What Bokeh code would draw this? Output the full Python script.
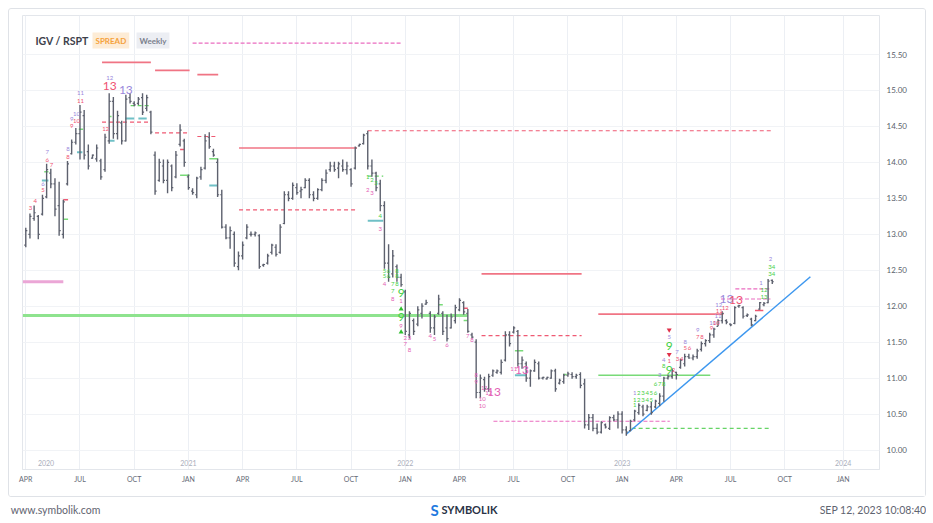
import pandas as pd
from bokeh.plotting import figure
from bokeh.layouts import column
from bokeh.models import (Range1d, FixedTicker, Label, ColumnDataSource, NumeralTickFormatter)
from bokeh.embed import file_html
from bokeh.resources import INLINE
from bokeh.core.properties import value

FONT = "Lato"

# ---------------- data: weekly IGV / RSPT spread bars ----------------
first_week = "2020-04-06"
opens = [12.85, 13.00, 13.22, 13.25, 13.28, 13.52, 13.85, 13.70, 13.40, 13.00,
         13.70, 14.12, 14.28, 14.40, 14.65, 14.15, 14.06, 14.05, 14.02, 13.90,
         14.30, 14.85, 14.40, 14.55, 14.30, 14.90, 14.82, 14.82, 14.90, 14.75,
         14.70, 14.10, 13.75, 13.95, 13.75, 13.95, 13.80, 14.25, 14.30, 13.80,
         13.60, 13.55, 13.80, 13.92, 14.35, 14.15, 14.00, 13.55, 13.10, 12.95,
         13.00, 12.55, 12.70, 12.95, 13.00, 13.00, 12.98, 12.57, 12.60, 12.75,
         12.82, 12.75, 13.15, 13.55, 13.50, 13.65, 13.60, 13.65, 13.75, 13.55,
         13.50, 13.62, 13.75, 13.90, 13.95, 13.92, 13.95, 13.90, 13.90, 13.92,
         14.23, 14.26, 14.40, 13.95, 13.85, 13.70, 13.40, 12.60, 12.45, 12.55,
         12.40, 12.20, 11.60, 11.80, 11.75, 11.90, 12.03, 11.90, 11.70, 11.90,
         11.90, 11.70, 11.70, 11.80, 11.95, 12.05, 11.90, 11.60, 11.50, 10.80,
         10.98, 10.85, 11.04, 11.08, 11.08, 11.25, 11.60, 11.64, 11.65, 11.20,
         11.20, 11.00, 11.10, 11.20, 11.00, 10.99, 11.00, 11.10, 10.93, 10.95,
         11.04, 11.05, 11.02, 11.05, 10.92, 10.35, 10.45, 10.30, 10.25, 10.35,
         10.30, 10.45, 10.42, 10.50, 10.28, 10.27, 10.42, 10.52, 10.60, 10.55,
         10.60, 10.60, 10.65, 10.75, 11.00, 11.02, 11.08, 11.15, 11.20, 11.30,
         11.28, 11.30, 11.40, 11.48, 11.52, 11.60, 11.72, 11.80, 11.80, 11.75,
         11.76, 12.00, 11.98, 11.87, 11.82, 11.80, 11.96, 12.02, 12.05, 12.36]
highs = [13.09, 13.29, 13.40, 13.27, 13.55, 13.98, 13.91, 13.78, 13.73, 13.48,
         14.02, 14.32, 14.48, 14.80, 14.73, 14.25, 14.11, 14.25, 14.05, 14.40,
         14.96, 14.91, 14.72, 14.58, 14.94, 14.96, 14.85, 14.91, 14.96, 14.94,
         14.72, 14.15, 14.05, 14.04, 14.04, 13.97, 14.16, 14.53, 14.33, 13.83,
         13.64, 13.80, 13.94, 14.39, 14.42, 14.19, 14.05, 13.62, 13.14, 13.11,
         13.04, 12.76, 12.90, 13.14, 13.04, 13.04, 13.00, 12.59, 12.73, 12.87,
         12.86, 13.14, 13.60, 13.60, 13.72, 13.71, 13.66, 13.78, 13.78, 13.60,
         13.64, 13.78, 13.90, 14.01, 14.01, 14.01, 14.04, 14.01, 13.92, 14.22,
         14.26, 14.40, 14.44, 14.04, 13.87, 13.76, 13.46, 12.86, 12.78, 12.58,
         12.45, 12.23, 11.93, 11.83, 12.00, 12.04, 12.09, 11.93, 11.88, 12.16,
         11.93, 11.88, 11.90, 12.02, 12.11, 12.07, 11.96, 11.63, 11.54, 11.05,
         11.02, 11.06, 11.12, 11.12, 11.26, 11.65, 11.65, 11.72, 11.67, 11.30,
         11.23, 11.12, 11.26, 11.23, 11.02, 11.02, 11.12, 11.13, 10.99, 11.06,
         11.09, 11.08, 11.06, 11.08, 10.99, 10.50, 10.50, 10.37, 10.40, 10.37,
         10.47, 10.49, 10.54, 10.54, 10.33, 10.42, 10.56, 10.65, 10.63, 10.63,
         10.67, 10.70, 10.79, 11.02, 11.05, 11.13, 11.09, 11.27, 11.34, 11.34,
         11.33, 11.41, 11.51, 11.54, 11.63, 11.70, 11.82, 11.93, 11.82, 11.76,
         12.00, 12.02, 12.00, 11.90, 11.84, 11.88, 12.06, 12.06, 12.38, 12.37]
lows = [12.82, 12.94, 13.19, 12.93, 13.26, 13.50, 13.64, 13.25, 12.98, 12.94,
        13.68, 14.11, 14.25, 14.04, 14.04, 13.90, 14.05, 14.01, 13.76, 13.87,
        14.26, 14.33, 14.32, 14.25, 14.29, 14.82, 14.78, 14.80, 14.66, 14.71,
        14.39, 13.55, 13.73, 13.71, 13.57, 13.60, 13.78, 14.22, 13.94, 13.62,
        13.55, 13.50, 13.76, 13.90, 14.19, 14.08, 13.52, 13.08, 12.93, 12.80,
        12.55, 12.50, 12.65, 12.93, 12.97, 12.97, 12.52, 12.55, 12.58, 12.72,
        12.69, 12.73, 13.14, 13.46, 13.48, 13.55, 13.50, 13.64, 13.50, 13.46,
        13.48, 13.60, 13.71, 13.87, 13.87, 13.78, 13.87, 13.83, 13.66, 13.90,
        14.22, 14.25, 13.90, 13.80, 13.60, 13.32, 12.52, 12.34, 12.40, 12.34,
        12.27, 11.60, 11.55, 11.60, 11.72, 11.83, 12.02, 11.63, 11.60, 11.88,
        11.60, 11.51, 11.69, 11.76, 11.93, 11.88, 11.63, 11.55, 10.72, 10.72,
        10.81, 10.81, 11.02, 11.06, 11.05, 11.23, 11.44, 11.62, 11.16, 11.13,
        10.95, 10.88, 11.09, 10.98, 10.98, 10.98, 10.99, 10.81, 10.91, 10.92,
        11.02, 10.99, 10.99, 10.86, 10.30, 10.28, 10.26, 10.22, 10.23, 10.30,
        10.28, 10.40, 10.30, 10.23, 10.20, 10.26, 10.40, 10.49, 10.47, 10.54,
        10.49, 10.58, 10.61, 10.67, 10.98, 10.99, 10.98, 11.13, 11.16, 11.27,
        11.25, 11.27, 11.37, 11.44, 11.49, 11.56, 11.72, 11.76, 11.75, 11.72,
        11.75, 11.98, 11.83, 11.85, 11.72, 11.79, 11.95, 12.00, 12.04, 12.31]
closes = [13.05, 13.25, 13.30, 13.00, 13.50, 13.90, 13.70, 13.35, 13.05, 13.45,
          13.98, 14.28, 14.40, 14.70, 14.10, 13.95, 14.10, 14.20, 13.80, 14.35,
          14.85, 14.40, 14.65, 14.30, 14.88, 14.85, 14.80, 14.88, 14.70, 14.90,
          14.42, 13.60, 14.00, 13.75, 14.00, 13.65, 14.10, 14.45, 14.00, 13.65,
          13.58, 13.78, 13.90, 14.30, 14.22, 14.10, 13.55, 13.10, 12.95, 13.05,
          12.60, 12.70, 12.85, 13.10, 13.00, 13.02, 12.55, 12.58, 12.70, 12.85,
          12.72, 13.10, 13.55, 13.50, 13.68, 13.58, 13.62, 13.75, 13.55, 13.50,
          13.62, 13.75, 13.85, 13.95, 13.90, 13.98, 13.90, 13.95, 13.70, 14.20,
          14.25, 14.38, 13.95, 13.85, 13.65, 13.40, 12.60, 12.40, 12.70, 12.40,
          12.30, 11.65, 11.90, 11.65, 11.95, 12.00, 12.05, 11.70, 11.85, 12.10,
          11.65, 11.55, 11.85, 11.98, 12.08, 11.92, 11.65, 11.57, 10.80, 11.00,
          10.85, 11.02, 11.10, 11.10, 11.22, 11.60, 11.48, 11.70, 11.20, 11.25,
          11.00, 11.10, 11.22, 11.00, 11.01, 11.01, 11.10, 10.85, 10.97, 11.04,
          11.06, 11.02, 11.04, 10.90, 10.35, 10.45, 10.30, 10.25, 10.38, 10.32,
          10.45, 10.42, 10.50, 10.28, 10.25, 10.40, 10.54, 10.62, 10.50, 10.60,
          10.52, 10.68, 10.75, 11.00, 11.02, 11.10, 11.05, 11.25, 11.30, 11.28,
          11.30, 11.38, 11.48, 11.52, 11.60, 11.68, 11.80, 11.90, 11.78, 11.74,
          11.98, 12.01, 11.86, 11.88, 11.74, 11.86, 12.05, 12.04, 12.35, 12.34]
last_price = "12.34"

# ---------------- level lines (start, end, level) ----------------
red_solid_start = ["2020-08-12", "2020-11-09", "2021-01-19", "2021-03-30", "2022-05-11", "2022-11-23"]
red_solid_end = ["2020-11-02", "2021-01-06", "2021-02-23", "2021-10-14", "2022-10-26", "2023-06-21"]
red_solid_level = [15.39, 15.28, 15.22, 14.20, 12.45, 11.89]

red_dash_start = ["2020-08-12", "2020-11-09", "2021-01-19", "2021-03-30", "2021-11-01", "2022-05-11"]
red_dash_end = ["2020-11-02", "2021-01-06", "2021-02-23", "2021-10-14", "2023-09-13", "2022-10-26"]
red_dash_level = [14.56, 14.41, 14.36, 13.34, 14.44, 11.59]

pink_dash_start = ["2021-01-11", "2022-05-31", "2023-07-11", "2023-06-17"]
pink_dash_end = ["2021-12-27", "2023-03-23", "2023-09-08", "2023-09-08"]
pink_dash_level = [15.66, 10.40, 12.24, 12.10]

pink_solid_start = ["2020-04-01"]
pink_solid_end = ["2020-06-08"]
pink_solid_level = [12.34]

green_thick_start = ["2020-04-01"]
green_thick_end = ["2022-04-18"]
green_thick_level = [11.87]

green_thin_start = ["2022-11-23"]
green_thin_end = ["2023-05-30"]
green_thin_level = [11.04]

green_dash_start = ["2023-01-18", "2020-09-29", "2021-11-01"]
green_dash_end = ["2023-09-10", "2020-11-02", "2021-11-27"]
green_dash_level = [10.30, 14.79, 13.81]

teal_start = ["2020-05-03", "2020-07-01", "2020-08-24", "2020-09-20", "2020-10-12", "2021-02-08", "2021-11-01", "2022-07-06"]
teal_end = ["2020-05-14", "2020-07-10", "2020-09-02", "2020-10-05", "2020-10-26", "2021-02-22", "2021-11-27", "2022-07-25"]
teal_level = [13.75, 14.14, 14.30, 14.61, 14.61, 13.68, 13.19, 11.04]

gshort_start = ["2020-05-07", "2020-06-08", "2020-07-04", "2020-08-24", "2020-12-21", "2021-02-08", "2022-02-28", "2022-04-11", "2022-07-06", "2022-09-26"]
gshort_end = ["2020-05-14", "2020-06-16", "2020-07-11", "2020-08-28", "2021-01-06", "2021-02-23", "2022-03-07", "2022-04-18", "2022-07-20", "2022-10-01"]
gshort_level = [13.87, 13.21, 14.46, 14.64, 13.82, 14.05, 12.02, 11.80, 11.38, 11.05]

rshort_start = ["2020-06-08", "2020-12-21", "2022-04-11", "2023-08-13"]
rshort_end = ["2020-06-16", "2020-12-28", "2022-04-18", "2023-08-27"]
rshort_level = [13.48, 14.18, 11.97, 11.94]

trend_dates = ["2023-01-09", "2023-11-14"]
trend_values = [10.22, 12.41]

# ---------------- count labels ----------------
small_date = ["2020-04-14", "2020-04-22", "2020-05-05", "2020-05-05", "2020-05-12", "2020-05-12", "2020-05-19",
              "2020-06-16", "2020-06-16", "2020-06-22", "2020-06-22", "2020-06-30", "2020-06-30", "2020-07-07",
              "2020-07-07", "2020-08-25", "2020-08-18",
              "2021-11-01", "2021-11-08", "2021-11-15", "2021-11-01", "2021-11-08", "2021-11-22", "2021-11-22",
              "2021-11-29", "2021-12-06", "2021-12-20", "2021-11-29", "2021-12-06", "2021-12-20", "2021-11-29",
              "2021-12-13", "2021-12-20", "2021-12-13", "2021-12-13", "2021-12-27", "2021-12-27",
              "2022-01-03", "2022-01-10", "2022-01-03", "2022-01-10", "2022-02-14", "2022-02-21", "2022-03-14",
              "2022-04-18", "2022-04-25",
              "2022-05-02", "2022-05-02", "2022-05-16", "2022-05-23", "2022-05-12", "2022-05-12", "2022-07-04",
              "2023-01-23", "2023-01-30", "2023-02-06", "2023-02-13", "2023-02-20", "2023-02-27",
              "2023-01-23", "2023-01-30", "2023-02-06", "2023-02-13", "2023-02-20", "2023-01-23",
              "2023-02-27", "2023-03-06", "2023-03-13", "2023-03-06", "2023-03-13", "2023-03-13",
              "2023-03-22", "2023-03-22", "2023-03-29", "2023-04-04", "2023-04-05", "2023-04-12",
              "2023-04-18", "2023-04-18", "2023-04-25", "2023-05-09", "2023-05-09", "2023-05-16",
              "2023-06-01", "2023-06-03", "2023-06-09", "2023-06-12", "2023-06-14", "2023-06-13", "2023-06-24",
              "2023-08-23", "2023-08-28", "2023-08-28", "2023-09-08", "2023-09-10", "2023-09-10"]
small_value = [13.36, 13.46, 13.70, 13.62, 14.15, 14.04, 13.97,
               14.18, 14.07, 14.61, 14.51, 14.68, 14.58, 14.96,
               14.86, 15.17, 14.46,
               13.80, 13.76, 13.72, 13.62, 13.58, 13.26, 13.07,
               12.49, 12.49, 12.49, 12.42, 12.42, 12.42, 12.31,
               12.31, 12.31, 12.21, 12.10, 12.07, 11.73,
               11.56, 11.56, 11.47, 11.39, 11.58, 11.55, 11.46,
               11.58, 11.53,
               11.04, 10.94, 10.86, 10.79, 10.71, 10.61, 11.13,
               10.79, 10.79, 10.79, 10.79, 10.79, 10.79,
               10.70, 10.70, 10.70, 10.70, 10.70, 10.62,
               10.92, 10.92, 10.92, 11.04, 11.17, 11.25,
               11.24, 11.57, 11.11, 11.36, 11.26, 11.26,
               11.50, 11.42, 11.42, 11.67, 11.57, 11.57,
               11.69, 11.77, 11.77, 11.86, 11.93, 12.02, 11.98,
               12.32, 12.23, 12.13, 12.65, 12.54, 12.45]
small_text = ["3", "4", "6", "5", "7", "6", "7",
              "8", "8", "9", "9", "10", "10", "11",
              "11", "12", "12",
              "1", "2", "3", "2", "3", "4", "3",
              "5", "6", "8", "5", "6", "8", "4",
              "7", "8", "7", "8", "1", "9",
              "2", "3", "7", "8", "4", "5", "6",
              "7", "8",
              "8", "9", "11", "12", "10", "10", "11",
              "1", "2", "3", "4", "5", "6",
              "1", "2", "3", "4", "5", "1",
              "6", "7", "8", "3", "8", "4",
              "1", "5", "2", "7", "3", "4",
              "8", "5", "6", "9", "7", "8",
              "9", "10", "10", "11", "11", "12", "12",
              "1", "12", "13", "2", "34", "34"]
small_kind = ["r", "r", "p", "r", "p", "r", "r",
              "p", "r", "p", "r", "p", "r", "p",
              "r", "p", "r",
              "g", "g", "g", "m", "m", "g", "m",
              "g", "g", "g", "g", "g", "g", "m",
              "g", "g", "g", "m", "m", "m",
              "m", "m", "m", "m", "m", "m", "m",
              "m", "m",
              "m", "m", "m", "m", "m", "m", "m",
              "p", "g", "g", "g", "g", "g",
              "g", "g", "g", "g", "g", "g",
              "g", "g", "g", "p", "g", "p",
              "r", "p", "r", "p", "r", "r",
              "p", "r", "r", "p", "r", "r",
              "r", "p", "r", "p", "r", "p", "r",
              "p", "g", "g", "p", "g", "g"]

big_date = ["2020-08-25", "2020-09-21", "2021-12-27", "2021-12-27", "2022-06-01", "2022-07-18",
            "2023-03-22", "2023-03-22", "2023-06-26", "2023-07-12"]
big_value = [15.06, 15.01, 12.19, 11.85, 10.81, 11.11, 11.45, 11.11, 12.10, 12.08]
big_text = ["13", "13", "9", "9", "13", "13", "9", "9", "13", "13"]
big_kind = ["r", "p", "g", "g", "m", "m", "g", "g", "p", "r"]

up_date = ["2021-12-27", "2021-12-27"]
up_value = [11.96, 11.64]
down_date = ["2023-03-22", "2023-03-22"]
down_value = [11.67, 11.33]

# ---------------- axis labels ----------------
quarter_dates = ["2020-04-06", "2020-07-06", "2020-10-05", "2021-01-04", "2021-04-05", "2021-07-05",
                 "2021-10-04", "2022-01-03", "2022-04-04", "2022-07-04", "2022-10-03", "2023-01-02",
                 "2023-04-03", "2023-07-03", "2023-10-02", "2024-01-08"]
quarter_labels = ["APR", "JUL", "OCT", "JAN", "APR", "JUL", "OCT", "JAN", "APR", "JUL", "OCT", "JAN",
                  "APR", "JUL", "OCT", "JAN"]
year_dates = ["2020-05-10", "2021-01-04", "2022-01-03", "2023-01-02", "2024-01-08"]
year_labels = ["2020", "2021", "2022", "2023", "2024"]
price_ticks = [10.0, 10.5, 11.0, 11.5, 12.0, 12.5, 13.0, 13.5, 14.0, 14.5, 15.0, 15.5]
footer_left = "www.symbolik.com"
footer_right = "SEP 12, 2023 10:08:40"
brand = "SYMBOLIK"

# ---------------- colours ----------------
BAR = "#5d616e"
RED = "#f07484"
RED_D = "#ef5a73"
PINK = "#ea6cc0"
GREEN = "#8ee38e"
TEAL = "#6fc0c6"
BLUE = "#3d97ef"
KIND_COL = {"r": "#ef5272", "p": "#9a88dc", "g": "#45cf45", "m": "#e35eb4"}


def ts(s):
    return pd.Timestamp(s)


dates = pd.date_range(first_week, periods=len(closes), freq="7D")
half = pd.Timedelta(days=2.6)
bars = ColumnDataSource(dict(x=dates, xo=dates - half, xc=dates + half,
                             o=opens, h=highs, l=lows, c=closes))

x_start = ts("2020-03-31 12:00")
x_end = ts("2024-03-09")
p = figure(width=918, height=489, x_axis_type="datetime", y_axis_location="right",
           output_backend="svg", toolbar_location=None,
           x_range=Range1d(x_start, x_end), y_range=Range1d(9.729, 16.043),
           min_border_left=13, min_border_right=48, min_border_top=6, min_border_bottom=29,
           styles={"border": "1px solid #dfe2e7", "border-radius": "3px"})
p.margin = (8, 0, 0, 8)
p.background_fill_color = "white"
p.border_fill_color = "white"
p.outline_line_color = "#e3e6eb"

# axes
xa = p.xaxis[0]
xa.ticker = FixedTicker(ticks=[ts(d).value // 10**6 for d in quarter_dates])
xa.major_label_overrides = {ts(d).value // 10**6: lab for d, lab in zip(quarter_dates, quarter_labels)}
xa.major_label_text_font = FONT
xa.major_label_text_font_size = "7px"
xa.major_label_text_color = "#676c78"
xa.axis_line_color = "#e3e6eb"
xa.major_tick_line_color = None
xa.minor_tick_line_color = None
xa.major_tick_out = 0
xa.major_tick_in = 0
xa.major_label_standoff = 5

ya = p.yaxis[0]
ya.ticker = FixedTicker(ticks=price_ticks)
ya.formatter = NumeralTickFormatter(format="0.00")
ya.major_label_text_font = FONT
ya.major_label_text_font_size = "8px"
ya.major_label_text_color = "#5a5f6b"
ya.axis_line_color = None
ya.major_tick_line_color = None
ya.minor_tick_line_color = None
ya.major_tick_out = 0
ya.major_tick_in = 0
ya.major_label_standoff = 7

p.xgrid.grid_line_color = "#eceff4"
p.ygrid.grid_line_color = "#f1f3f6"

# year row text
p.text(x=[ts(d) for d in year_dates], y=[9.826] * len(year_dates), text=year_labels,
       text_font=value(FONT), text_font_size="7px", text_color="#a9aebb",
       text_align="center", text_baseline="middle")


def hlines(starts, ends, levels, color, width, dash="solid"):
    p.segment(x0=[ts(s) for s in starts], x1=[ts(e) for e in ends], y0=levels, y1=levels,
              line_color=color, line_width=width, line_dash=dash)


hlines(green_thick_start, green_thick_end, green_thick_level, GREEN, 3)
hlines(pink_solid_start, pink_solid_end, pink_solid_level, "#eba6d6", 3)
hlines(red_solid_start, red_solid_end, red_solid_level, RED, 1.7)
hlines(red_dash_start, red_dash_end, red_dash_level, RED_D, 1.2, "4 3")
hlines(pink_dash_start, pink_dash_end, pink_dash_level, PINK, 1.2, "4 2")
hlines(green_thin_start, green_thin_end, green_thin_level, "#78da78", 1.5)
hlines(green_dash_start, green_dash_end, green_dash_level, "#66d466", 1.2, "4 3")
hlines(teal_start, teal_end, teal_level, TEAL, 2)
hlines(gshort_start, gshort_end, gshort_level, "#78da78", 1.5)
hlines(rshort_start, rshort_end, rshort_level, RED_D, 1.5)

# trend line
p.line(x=[ts(d) for d in trend_dates], y=trend_values, line_color=BLUE, line_width=1.5)

# OHLC bars
p.segment(x0="x", x1="x", y0="l", y1="h", source=bars, line_color=BAR, line_width=1.4)
p.segment(x0="xo", x1="x", y0="o", y1="o", source=bars, line_color=BAR, line_width=1.2)
p.segment(x0="x", x1="xc", y0="c", y1="c", source=bars, line_color=BAR, line_width=1.2)

# count labels
p.text(x=[ts(d) for d in small_date], y=small_value, text=small_text,
       text_color=[KIND_COL[k] for k in small_kind], text_font=value(FONT),
       text_font_size="6px", text_align="center", text_baseline="middle")
p.text(x=[ts(d) for d in big_date], y=big_value, text=big_text,
       text_color=[KIND_COL[k] for k in big_kind], text_font=value(FONT),
       text_font_size="12px", text_align="center", text_baseline="middle")
p.scatter(x=[ts(d) for d in up_date], y=up_value, marker="triangle", size=5,
          fill_color="#2fbf2f", line_color=None)
p.scatter(x=[ts(d) for d in down_date], y=down_value, marker="inverted_triangle", size=5,
          fill_color="#e0304a", line_color=None)

# title & badges
p.add_layout(Label(x=13, y=429, x_units="screen", y_units="screen", text="IGV / RSPT",
                   text_font=FONT, text_font_size="10.5px", text_font_style="bold",
                   text_color="#3d414b", text_baseline="middle"))
p.add_layout(Label(x=70, y=429, x_units="screen", y_units="screen", text="SPREAD",
                   text_font=FONT, text_font_size="8px", text_font_style="bold",
                   text_color="#f5a23c", text_baseline="middle",
                   background_fill_color="#fdecd6", padding=3))
p.add_layout(Label(x=114, y=429, x_units="screen", y_units="screen", text="Weekly",
                   text_font=FONT, text_font_size="8px", text_font_style="bold",
                   text_color="#7b808d", text_baseline="middle",
                   background_fill_color="#eceef3", padding=3))

# last price tag
p.add_layout(Label(x=860, y=12.34, x_units="screen", y_units="data", text=last_price,
                   text_font=FONT, text_font_size="8px", text_color="white",
                   text_baseline="middle", background_fill_color="#4a4e5b", padding=3))

# footer strip: its frame lines up with the chart frame; url and timestamp are drawn
# as axis labels (which may extend past the frame), the brand as in-frame text
f = figure(width=918, height=20, output_backend="svg", toolbar_location=None,
           x_range=Range1d(21, 878), y_range=Range1d(0, 20),
           y_axis_location=None,
           min_border_left=13, min_border_right=48, min_border_top=0, min_border_bottom=0)
f.margin = (2, 0, 0, 8)
f.outline_line_color = None
f.grid.visible = False
fa = f.xaxis[0]
fa.ticker = FixedTicker(ticks=[55, 874])
fa.major_label_overrides = {55: footer_left, 874: footer_right}
fa.major_label_text_font = FONT
fa.major_label_text_font_size = "10.5px"
fa.major_label_text_color = "#5f6470"
fa.axis_line_color = None
fa.major_tick_line_color = None
fa.minor_tick_line_color = None
fa.major_tick_out = 0
fa.major_tick_in = 0
fa.major_label_standoff = -16
f.text(x=[430], y=[10], text=["S"], text_font=value(FONT), text_font_size="15px",
       text_font_style="bold", text_color="#1f7ae0", text_baseline="middle", text_align="left")
f.text(x=[441], y=[10], text=[brand], text_font=value(FONT), text_font_size="11px",
       text_font_style="bold", text_color="#2a3345", text_baseline="middle", text_align="left")

layout = column(p, f, spacing=0)
open("out.html", "w").write(file_html(layout, INLINE))
